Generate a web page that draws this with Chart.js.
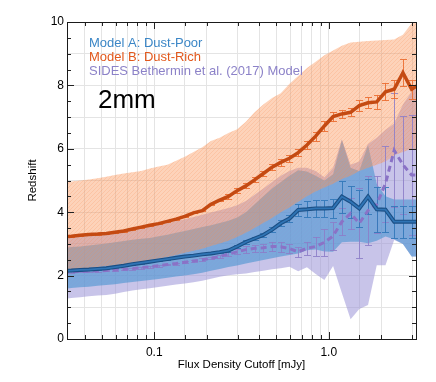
<!DOCTYPE html>
<html>
<head>
<meta charset="utf-8">
<script src="https://cdn.jsdelivr.net/npm/chart.js@4.4.0/dist/chart.umd.min.js"></script>
<style>
  body { margin: 0; background: #fff; }
  #wrap { width: 436px; height: 382px; }
</style>
</head>
<body>
<div id="wrap"><canvas id="myChart" width="436" height="382"></canvas></div>
<script>
// flux density cutoff bins [mJy]
let fluxCut = [0.02985, 0.03350, 0.03758, 0.04217, 0.04732, 0.05309, 0.05957, 0.06683, 0.07499, 0.08414,
  0.09441, 0.1059, 0.1189, 0.1334, 0.1496, 0.1679, 0.1884, 0.2114, 0.2371, 0.2661,
  0.2985, 0.3350, 0.3758, 0.4217, 0.4732, 0.5309, 0.5957, 0.6683, 0.7499, 0.8414,
  0.9441, 1.059, 1.189, 1.334, 1.496, 1.679, 1.884, 2.114, 2.371, 2.661, 2.985, 3.350];

// Model B: Dust-Rich
let modelB = [3.22, 3.24, 3.27, 3.30, 3.31, 3.33, 3.37, 3.41, 3.47, 3.53, 3.59, 3.64, 3.71, 3.78, 3.87, 3.98, 4.05, 4.25, 4.38, 4.50,
  4.68, 4.83, 5.02, 5.22, 5.42, 5.57, 5.70, 5.88, 6.12, 6.40, 6.72, 7.02, 7.10, 7.15, 7.36, 7.45, 7.48, 7.80, 7.88, 8.40, 7.88, 8.05];
let modelBErr = [0.02, 0.02, 0.02, 0.02, 0.02, 0.02, 0.02, 0.02, 0.02, 0.02, 0.02, 0.02, 0.02, 0.02, 0.02, 0.02, 0.02, 0.02, 0.02, 0.07,
  0.07, 0.08, 0.08, 0.09, 0.09, 0.10, 0.11, 0.12, 0.13, 0.14, 0.15, 0.15, 0.12, 0.13, 0.18, 0.17, 0.22, 0.26, 0.28, 0.42, 0.30, 0.30];
let modelBLow = [2.18, 2.20, 2.22, 2.24, 2.27, 2.30, 2.32, 2.35, 2.40, 2.44, 2.49, 2.54, 2.59, 2.65, 2.72, 2.78, 2.85, 2.93, 3.01, 3.10,
  3.22, 3.35, 3.50, 3.66, 3.82, 4.00, 4.15, 4.33, 4.50, 4.65, 4.78, 4.90, 5.05, 5.15, 5.30, 5.40, 5.50, 5.60, 5.80, 5.90, 6.00, 6.00];
let modelBHigh = [4.95, 4.97, 5.00, 5.03, 5.07, 5.12, 5.17, 5.22, 5.26, 5.30, 5.38, 5.44, 5.50, 5.62, 5.75, 5.90, 6.05, 6.25, 6.35, 6.50,
  6.62, 6.85, 7.15, 7.40, 7.60, 7.75, 8.05, 8.30, 8.55, 8.75, 8.95, 9.10, 9.25, 9.35, 9.38, 9.40, 9.42, 9.43, 9.45, 9.60, 9.95, 10.3];

// Model A: Dust-Poor
let modelA = [2.15, 2.16, 2.18, 2.19, 2.21, 2.23, 2.27, 2.31, 2.36, 2.40, 2.44, 2.48, 2.52, 2.56, 2.60, 2.63, 2.67, 2.70, 2.74, 2.79,
  2.92, 3.06, 3.17, 3.28, 3.45, 3.65, 3.80, 4.07, 4.09, 4.12, 4.12, 4.13, 4.49, 4.33, 4.12, 4.49, 4.09, 4.08, 3.70, 3.70, 3.70, 3.70];
let modelAErr = [0.02, 0.02, 0.02, 0.02, 0.02, 0.02, 0.02, 0.02, 0.02, 0.02, 0.02, 0.02, 0.02, 0.02, 0.02, 0.02, 0.02, 0.02, 0.02, 0.03,
  0.04, 0.05, 0.05, 0.06, 0.07, 0.09, 0.12, 0.20, 0.25, 0.28, 0.28, 0.30, 0.50, 0.50, 0.58, 0.55, 0.70, 0.70, 0.50, 0.50, 0.50, 0.50];
let modelALow = [1.58, 1.61, 1.63, 1.65, 1.68, 1.70, 1.73, 1.77, 1.80, 1.83, 1.86, 1.89, 1.93, 1.97, 2.00, 2.04, 2.09, 2.15, 2.21, 2.27,
  2.32, 2.38, 2.44, 2.49, 2.55, 2.60, 2.65, 2.70, 2.80, 2.82, 2.76, 2.75, 3.05, 3.07, 3.07, 3.02, 3.10, 3.23, 3.15, 3.00, 2.60, 2.60];
let modelAHigh = [2.88, 2.90, 2.92, 2.95, 2.98, 3.01, 3.05, 3.09, 3.13, 3.16, 3.19, 3.24, 3.29, 3.35, 3.41, 3.47, 3.53, 3.59, 3.66, 3.73,
  3.83, 4.00, 4.25, 4.50, 4.75, 4.95, 5.15, 5.32, 5.28, 5.15, 5.00, 5.20, 6.28, 5.40, 5.30, 6.12, 4.90, 4.50, 4.40, 4.40, 4.40, 4.40];

// SIDES Bethermin et al. (2017)
let sides = [2.11, 2.12, 2.13, 2.14, 2.15, 2.16, 2.18, 2.20, 2.22, 2.25, 2.28, 2.31, 2.35, 2.38, 2.42, 2.46, 2.50, 2.55, 2.60, 2.68,
  2.75, 2.82, 2.86, 2.88, 2.92, 2.91, 2.85, 2.75, 2.86, 2.92, 3.05, 3.25, 3.70, 3.96, 3.65, 4.05, 4.25, 4.90, 5.95, 5.50, 5.17, 5.17];
let sidesErr = [0.03, 0.03, 0.03, 0.03, 0.03, 0.03, 0.03, 0.03, 0.03, 0.03, 0.03, 0.03, 0.03, 0.03, 0.03, 0.03, 0.04, 0.04, 0.05, 0.06,
  0.08, 0.10, 0.12, 0.12, 0.14, 0.15, 0.15, 0.16, 0.20, 0.30, 0.42, 0.45, 0.42, 0.50, 1.10, 1.10, 0.90, 1.20, 1.80, 1.55, 1.90, 1.90];
let sidesLow = [1.26, 1.29, 1.32, 1.35, 1.37, 1.39, 1.43, 1.48, 1.53, 1.57, 1.60, 1.64, 1.68, 1.72, 1.75, 1.79, 1.84, 1.90, 1.96, 2.01,
  2.04, 2.07, 2.11, 2.15, 2.20, 2.23, 2.28, 2.14, 2.26, 2.05, 1.86, 2.30, 1.45, 0.62, 0.95, 1.07, 2.33, 2.33, 3.12, 3.00, 2.60, 2.60];
let sidesHigh = [3.18, 3.20, 3.23, 3.26, 3.29, 3.32, 3.36, 3.40, 3.45, 3.50, 3.54, 3.60, 3.66, 3.72, 3.78, 3.85, 3.92, 3.99, 4.06, 4.13,
  4.22, 4.35, 4.55, 4.75, 4.95, 5.15, 5.30, 5.40, 5.40, 5.30, 5.10, 5.40, 6.30, 5.50, 5.60, 6.15, 6.35, 6.60, 6.80, 7.40, 7.80, 8.00];

let yTickLabels = [0, 2, 4, 6, 8, 10];
let xTickLabels = { 0.1: '0.1', 1: '1.0' };

let legendItems = [
  { text: 'Model A: Dust-Poor', color: '#3b86c6' },
  { text: 'Model B: Dust-Rich', color: '#e2581c' },
  { text: 'SIDES Bethermin et al. (2017) Model', color: '#8c82c8' }
];

let fontFam = "'Liberation Sans', Arial, Helvetica, sans-serif";
let canvas = document.getElementById('myChart');
let mainCtx = canvas.getContext('2d');

function hatch(bg, line, gap) {
  let c = document.createElement('canvas');
  c.width = gap; c.height = gap;
  let g = c.getContext('2d');
  g.fillStyle = bg;
  g.fillRect(0, 0, gap, gap);
  g.strokeStyle = line;
  g.lineWidth = 1;
  g.beginPath();
  g.moveTo(0, gap); g.lineTo(gap, 0);
  g.moveTo(-1, 1); g.lineTo(1, -1);
  g.moveTo(gap - 1, gap + 1); g.lineTo(gap + 1, gap - 1);
  g.stroke();
  return mainCtx.createPattern(c, 'repeat');
}

function pts(arr) {
  return fluxCut.map((x, i) => ({ x: x, y: arr[i] }));
}

function edge(arr, order) {
  return { data: pts(arr), borderColor: 'rgba(0,0,0,0)', borderWidth: 1, pointRadius: 0, fill: false, order: order };
}

function fillTo(arr, bg, order) {
  return { data: pts(arr), borderColor: 'rgba(0,0,0,0)', borderWidth: 1, pointRadius: 0, fill: '-1', backgroundColor: bg, order: order };
}

let orangeHatch = hatch('rgba(250,150,90,0.42)', 'rgba(245,135,75,0.2)', 4);
let blueHatch = hatch('rgba(62,142,205,0.55)', 'rgba(120,180,225,0.25)', 4);

function drawErr(chart, vals, errs, color, cap) {
  let xs = chart.scales.x, ys = chart.scales.y, ctx = chart.ctx, a = chart.chartArea;
  ctx.save();
  ctx.beginPath();
  ctx.rect(a.left, a.top, a.right - a.left, a.bottom - a.top);
  ctx.clip();
  ctx.strokeStyle = color;
  ctx.lineWidth = 1;
  ctx.beginPath();
  fluxCut.forEach((f, i) => {
    let px = Math.round(xs.getPixelForValue(f)) + 0.5;
    let y1 = Math.round(ys.getPixelForValue(vals[i] - errs[i])) + 0.5;
    let y2 = Math.round(ys.getPixelForValue(vals[i] + errs[i])) + 0.5;
    ctx.moveTo(px, y1); ctx.lineTo(px, y2);
    ctx.moveTo(px - cap, y1); ctx.lineTo(px + cap, y1);
    ctx.moveTo(px - cap, y2); ctx.lineTo(px + cap, y2);
  });
  ctx.stroke();
  ctx.restore();
}

let extras = {
  id: 'extras',
  afterDatasetDraw(chart, args) {
    if (args.index === 5) {
      drawErr(chart, sides, sidesErr, 'rgba(140,125,200,0.85)', 3.5);
      drawErr(chart, modelA, modelAErr, 'rgba(50,120,185,0.9)', 3.5);
      drawErr(chart, modelB, modelBErr, 'rgba(235,110,50,0.9)', 3.5);
    }
  },
  afterDraw(chart) {
    let ctx = chart.ctx, a = chart.chartArea, xs = chart.scales.x, ys = chart.scales.y;
    ctx.save();
    // inward tick marks on all four sides
    ctx.strokeStyle = '#222';
    ctx.lineWidth = 1;
    ctx.beginPath();
    xs.ticks.forEach(t => {
      if (t.value <= xs.min * 1.0001 || t.value >= xs.max * 0.9999) return;
      let px = Math.round(xs.getPixelForValue(t.value)) + 0.5;
      let big = Math.abs(t.value - 0.1) < 1e-9 || Math.abs(t.value - 1) < 1e-9;
      let len = big ? 7 : 4;
      ctx.moveTo(px, a.bottom); ctx.lineTo(px, a.bottom - len);
      ctx.moveTo(px, a.top); ctx.lineTo(px, a.top + len);
    });
    ys.ticks.forEach(t => {
      if (t.value <= ys.min || t.value >= ys.max) return;
      let py = Math.round(ys.getPixelForValue(t.value)) + 0.5;
      let len = yTickLabels.includes(t.value) ? 7 : 4;
      ctx.moveTo(a.left, py); ctx.lineTo(a.left + len, py);
      ctx.moveTo(a.right, py); ctx.lineTo(a.right - len, py);
    });
    ctx.stroke();
    // frame
    ctx.strokeStyle = '#1a1a1a';
    ctx.strokeRect(Math.round(a.left) + 0.5, Math.round(a.top) + 0.5, Math.round(a.right - a.left), Math.round(a.bottom - a.top));
    // legend text
    ctx.font = '13px ' + fontFam;
    ctx.textBaseline = 'middle';
    ctx.textAlign = 'left';
    legendItems.forEach((it, i) => {
      ctx.fillStyle = it.color;
      ctx.fillText(it.text, a.left + 22, a.top + 21 + i * 14);
    });
    ctx.fillStyle = '#000';
    ctx.font = '26px ' + fontFam;
    ctx.fillText('2mm', a.left + 31, a.top + 79);
    ctx.restore();
  }
};

let config = {
  type: 'line',
  data: {
    datasets: [
      edge(sidesLow, 20),
      fillTo(sidesHigh, 'rgba(155,148,215,0.55)', 19),
      edge(modelALow, 18),
      fillTo(modelAHigh, blueHatch, 17),
      edge(modelBLow, 16),
      fillTo(modelBHigh, orangeHatch, 15),
      { data: pts(sides), borderColor: '#8a72c6', borderWidth: 3, borderDash: [6, 4], pointRadius: 0, fill: false, order: 4 },
      { data: pts(modelA), borderColor: '#1b4f85', borderWidth: 4, pointRadius: 0, fill: false, order: 3 },
      { data: pts(modelA), borderColor: '#2f74b5', borderWidth: 1.8, pointRadius: 0, fill: false, order: 2 },
      { data: pts(modelB), borderColor: '#c44a12', borderWidth: 3.5, pointRadius: 0, fill: false, order: 1 }
    ]
  },
  options: {
    responsive: false,
    animation: false,
    layout: { padding: { left: 0, right: 20, top: 22, bottom: 0 } },
    plugins: { legend: { display: false }, tooltip: { enabled: false } },
    elements: { line: { tension: 0 } },
    scales: {
      x: {
        type: 'logarithmic',
        min: 0.031623,
        max: 3.1623,
        grid: { color: '#e4e4e4', drawTicks: false },
        border: { display: false },
        ticks: {
          autoSkip: false, maxRotation: 0, padding: 6, color: '#000',
          font: { size: 12, family: fontFam },
          callback: function (v) {
            for (let k in xTickLabels) { if (Math.abs(v - Number(k)) < 1e-9) return xTickLabels[k]; }
            return '';
          }
        },
        title: { display: true, text: 'Flux Density Cutoff [mJy]', color: '#000', font: { size: 11.5, family: fontFam }, padding: { top: 0, bottom: 10 } },
        afterFit: function (s) { s.height = 43; }
      },
      y: {
        min: 0,
        max: 10,
        grid: {
          drawTicks: false,
          color: function (c) { return Number.isInteger(c.tick.value) ? '#e4e4e4' : 'rgba(0,0,0,0)'; }
        },
        border: { display: false },
        ticks: {
          stepSize: 0.5, autoSkip: false, padding: 3, color: '#000',
          font: { size: 12, family: fontFam },
          callback: function (v) { return yTickLabels.includes(v) ? String(v) : ''; }
        },
        title: { display: true, text: 'Redshift', color: '#000', font: { size: 11.5, family: fontFam }, padding: { top: 26, bottom: 0 } },
        afterFit: function (s) { s.width = 67; }
      }
    }
  },
  plugins: [extras]
};

let chart = new Chart(canvas, config);
</script>
</body>
</html>
